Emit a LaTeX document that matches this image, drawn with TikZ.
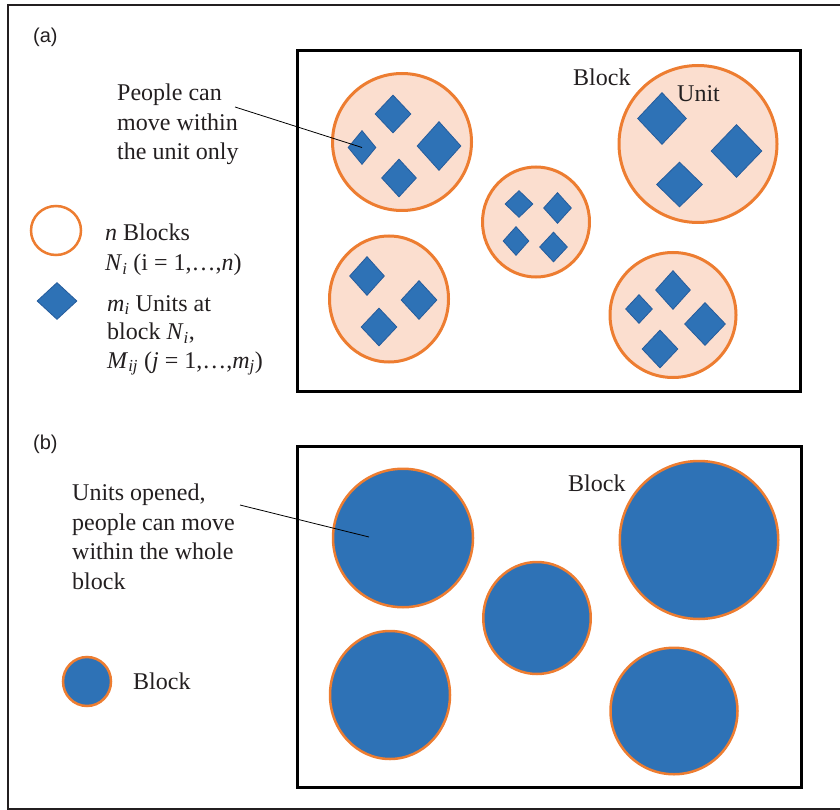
\documentclass[tikz,border=0pt]{standalone}
\usepackage{fontspec}
\setmainfont{Liberation Serif}
\newfontfamily\labelfont{Liberation Sans}
\usepackage{tikz}
\usetikzlibrary{shapes,positioning}
\definecolor{blkorange}{RGB}{237,125,49}
\definecolor{blkfill}{RGB}{251,222,207}
\definecolor{unitblue}{RGB}{46,114,182}
\definecolor{unitedge}{RGB}{38,92,156}
\definecolor{ink}{RGB}{35,31,32}
\newcommand{\idx}[2]{\textit{#1}\textsubscript{\textit{#2}}}

\begin{document}
\begin{tikzpicture}[
            x=1pt, y=-1pt,
            every node/.style={font=\fontsize{24}{29.5}\selectfont, inner sep=0pt, text=ink},
            frame/.style={draw, line width=3pt},
            blk/.style={ellipse, draw=blkorange, line width=3pt, fill=blkfill},
            open/.style={ellipse, draw=blkorange, line width=2.5pt, fill=unitblue},
            unit/.style={diamond, draw=unitedge, line width=0.8pt, fill=unitblue},
            note/.style={align=left, anchor=north west},
            tag/.style={font=\labelfont\fontsize{20}{22}\selectfont, anchor=base west},
        ]
            \useasboundingbox (0,0) rectangle (840,810);
            \draw[line width=1.5pt, ink] (842,5) -- (8,5) -- (8,809) -- (842,809);

            % (a) blocks split into units
            \node[tag] (taga) at (33,43) {(a)};
            \draw[frame] (297,51) rectangle (800,391);

            \node[blk, minimum width=139, minimum height=137] (b1) at (402,142) {};
            \node[blk, minimum width=107, minimum height=110] (b2) at (536,222) {};
            \node[blk, minimum width=158, minimum height=157] (b3) at (698,144) {};
            \node[blk, minimum width=119, minimum height=126] (b4) at (389,299) {};
            \node[blk, minimum width=126, minimum height=125] (b5) at (673,315) {};

            \node[unit, minimum width=36, minimum height=38] (u1) at (393,114) {};
            \node[unit, minimum width=28, minimum height=34] (u2) at (362,147.5) {};
            \node[unit, minimum width=44, minimum height=49] (u3) at (439,146) {};
            \node[unit, minimum width=35, minimum height=38] (u4) at (399,178) {};
            \node[unit, minimum width=28, minimum height=27] (u5) at (519,204) {};
            \node[unit, minimum width=28, minimum height=31] (u6) at (557.5,208) {};
            \node[unit, minimum width=26, minimum height=29] (u7) at (516,241) {};
            \node[unit, minimum width=28, minimum height=30] (u8) at (553.5,247) {};
            \node[unit, minimum width=49, minimum height=52] (u9) at (662,118.5) {};
            \node[unit, minimum width=51, minimum height=53] (u10) at (736.5,151) {};
            \node[unit, minimum width=46, minimum height=45] (u11) at (679.5,184.5) {};
            \node[unit, minimum width=35, minimum height=39] (u12) at (367,276) {};
            \node[unit, minimum width=36, minimum height=39] (u13) at (419,300) {};
            \node[unit, minimum width=36, minimum height=38] (u14) at (379,327) {};
            \node[unit, minimum width=35, minimum height=39] (u15) at (673,290) {};
            \node[unit, minimum width=27, minimum height=29] (u16) at (639,309) {};
            \node[unit, minimum width=41, minimum height=43] (u17) at (705,324) {};
            \node[unit, minimum width=36, minimum height=38] (u18) at (660,349) {};

            \node[anchor=base west] (blka) at (573,86) {Block};
            \node[anchor=base west] (unita) at (677,102) {Unit};

            \node[note] (ppl) at (117,84) {People can\\move within\\the unit only};
            \coordinate (ca) at (235,107);
            \draw[line width=0.8pt] (ca) -- (u2.center);

            \node[ellipse, draw=blkorange, line width=2.5pt, fill=white, minimum width=50, minimum height=49] (lgblk) at (56,230.5) {};
            \node[note] (nblk) at (105,224) {\textit{n} Blocks\\\idx{N}{i} (i = 1,…,\textit{n})};
            \node[unit, minimum width=40, minimum height=37] (lgunit) at (57,301) {};
            \node[note, font=\fontsize{24}{28.5}\selectfont] (munit) at (107,295) {\idx{m}{i} Units at\\block \idx{N}{i},\\\idx{M}{ij} (\textit{j} = 1,…,\idx{m}{j})};

            % (b) units opened
            \node[tag] (tagb) at (33,449) {(b)};
            \draw[frame] (297,446) rectangle (801,787);

            \node[open, minimum width=140, minimum height=138.5] (o1) at (403,538) {};
            \node[open, minimum width=107.5, minimum height=112] (o2) at (537,618) {};
            \node[open, minimum width=158.5, minimum height=158] (o3) at (699,540) {};
            \node[open, minimum width=120, minimum height=128] (o4) at (390,695) {};
            \node[open, minimum width=127, minimum height=126.5] (o5) at (674,711) {};

            \node[anchor=base west] (blkb) at (568,491) {Block};

            \node[note] (opn) at (72,484) {Units opened,\\people can move\\within the whole\\block};
            \coordinate (cbs) at (240,505);
            \coordinate (cbe) at (369,537);
            \draw[line width=0.8pt] (cbs) -- (cbe);

            \node[open, minimum width=48, minimum height=49] (lgopen) at (87,681.5) {};
            \node[anchor=base west] (lgtext) at (133,689) {Block};
        \end{tikzpicture}
\end{document}
